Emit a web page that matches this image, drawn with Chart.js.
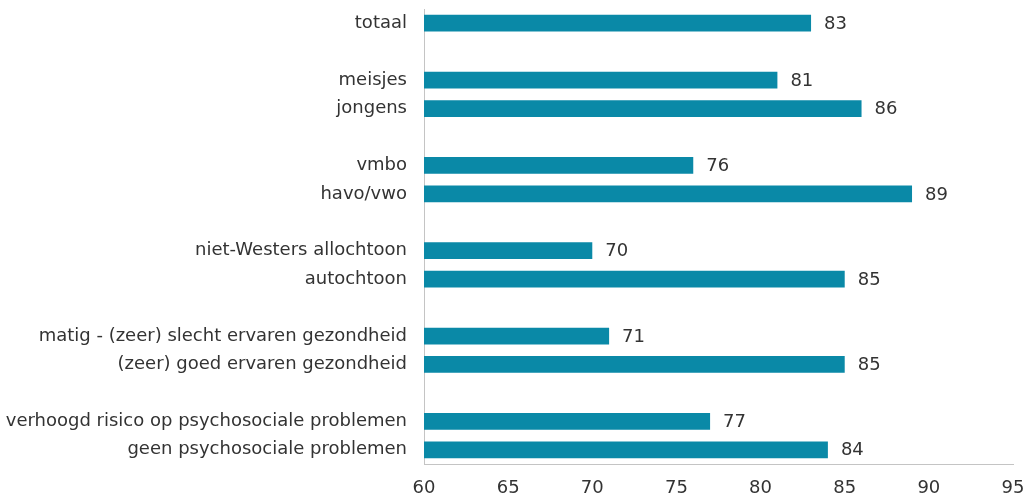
<!DOCTYPE html>
<html>
<head>
<meta charset="utf-8">
<script src="https://cdn.jsdelivr.net/npm/chart.js@4/dist/chart.umd.min.js"></script>
<style>
  html, body { margin: 0; padding: 0; background: #fff; }
  #wrap { width: 1026px; height: 497px; position: relative; }
</style>
</head>
<body>
<div id="wrap"><canvas id="chart"></canvas></div>
<script>
// Categories, top to bottom. Empty strings are the spacer rows between groups.
const categories = [
  'totaal',
  '',
  'meisjes',
  'jongens',
  '',
  'vmbo',
  'havo/vwo',
  '',
  'niet-Westers allochtoon',
  'autochtoon',
  '',
  'matig - (zeer) slecht ervaren gezondheid',
  '(zeer) goed ervaren gezondheid',
  '',
  'verhoogd risico op psychosociale problemen',
  'geen psychosociale problemen'
];

// Percentages per row (null = spacer)
const values = [83, null, 81, 86, null, 76, 89, null, 70, 85, null, 71, 85, null, 77, 84];

// x axis range and tick step
const xMin = 60;
const xMax = 95;
const xStep = 5;

const FONT = { family: '"DejaVu Sans", Verdana, sans-serif', size: 18 };
const TEXT_COLOR = '#333333';
const BAR_COLOR = '#0a89a7';

// Draws the value next to the end of each bar
const valueLabels = {
  id: 'valueLabels',
  afterDatasetsDraw(chart) {
    const ctx = chart.ctx;
    const meta = chart.getDatasetMeta(0);
    ctx.save();
    ctx.font = `${FONT.size}px ${FONT.family}`;
    ctx.fillStyle = TEXT_COLOR;
    ctx.textAlign = 'left';
    ctx.textBaseline = 'middle';
    meta.data.forEach((bar, i) => {
      const v = values[i];
      if (v === null || v === undefined) return;
      ctx.fillText(String(v), bar.x + 13, bar.y + 1);
    });
    ctx.restore();
  }
};

new Chart(document.getElementById('chart'), {
  type: 'bar',
  data: {
    labels: categories,
    datasets: [{
      data: values,
      backgroundColor: BAR_COLOR,
      borderWidth: 0,
      barPercentage: 0.59,
      categoryPercentage: 1
    }]
  },
  options: {
    indexAxis: 'y',
    responsive: true,
    maintainAspectRatio: false,
    animation: false,
    layout: { padding: { top: 9, right: 13, bottom: 0, left: 0 } },
    plugins: {
      legend: { display: false },
      tooltip: { enabled: false }
    },
    scales: {
      x: {
        min: xMin,
        max: xMax,
        grid: { display: false, drawTicks: false },
        border: { display: true, color: '#c4c4c4', width: 1 },
        ticks: {
          stepSize: xStep,
          color: TEXT_COLOR,
          font: FONT,
          padding: 14,
          maxRotation: 0
        },
        afterFit(scale) {
          scale.height = 33;
          // tick padding otherwise also widens the side margins
          scale.paddingLeft = 0;
          scale.paddingRight = 0;
        }
      },
      y: {
        grid: { display: false, drawTicks: false },
        border: { display: true, color: '#c4c4c4', width: 1 },
        ticks: {
          color: TEXT_COLOR,
          font: FONT,
          padding: 17,
          autoSkip: false
        },
        afterFit(scale) {
          scale.width = 424;
          scale.paddingTop = 0;
          scale.paddingBottom = 0;
        }
      }
    }
  },
  plugins: [valueLabels]
});
</script>
</body>
</html>
